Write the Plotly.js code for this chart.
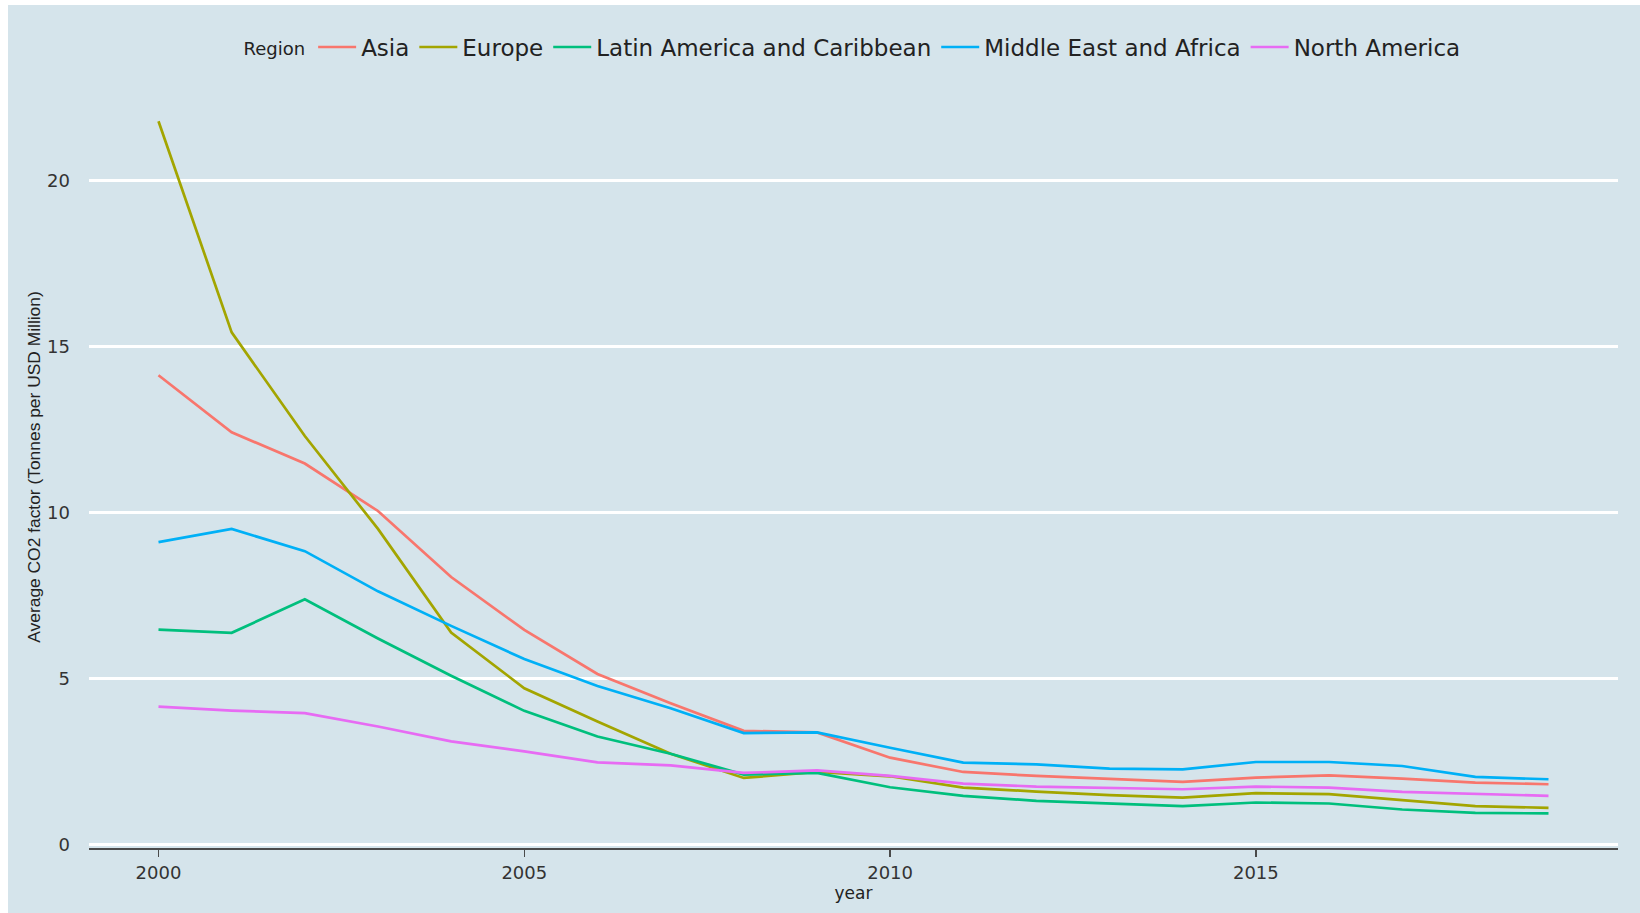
<!DOCTYPE html>
<html>
<head>
<meta charset="utf-8">
<script src="https://cdn.plot.ly/plotly-3.0.1.min.js"></script>
<style>
  html, body { margin: 0; padding: 0; background: #ffffff; }
  #chart { position: absolute; left: 8px; top: 5px; width: 1632px; height: 908px; }
</style>
</head>
<body>
<div id="chart"></div>
<script>
const years = [2000, 2001, 2002, 2003, 2004, 2005, 2006, 2007, 2008, 2009,
               2010, 2011, 2012, 2013, 2014, 2015, 2016, 2017, 2018, 2019];

const regionNames = ["Asia", "Europe", "Latin America and Caribbean", "Middle East and Africa", "North America"];

const asia = [14.13, 12.41, 11.47, 10.04, 8.05, 6.46, 5.13, 4.25, 3.42, 3.37,
              2.61, 2.18, 2.06, 1.96, 1.88, 2.01, 2.08, 1.98, 1.86, 1.81];
const europe = [21.78, 15.42, 12.3, 9.5, 6.38, 4.70, 3.70, 2.73, 2.00, 2.18,
                2.05, 1.71, 1.59, 1.48, 1.41, 1.54, 1.51, 1.34, 1.15, 1.10];
const latinAmerica = [6.47, 6.37, 7.38, 6.2, 5.08, 4.02, 3.25, 2.73, 2.10, 2.15,
                      1.72, 1.46, 1.31, 1.23, 1.15, 1.26, 1.23, 1.05, 0.95, 0.93];
const middleEastAfrica = [9.10, 9.50, 8.83, 7.62, 6.58, 5.58, 4.77, 4.10, 3.35, 3.37,
                          2.91, 2.46, 2.41, 2.28, 2.26, 2.48, 2.48, 2.36, 2.03, 1.96];
const northAmerica = [4.15, 4.03, 3.95, 3.55, 3.10, 2.80, 2.47, 2.38, 2.15, 2.23,
                      2.06, 1.83, 1.74, 1.69, 1.66, 1.74, 1.71, 1.58, 1.51, 1.46];

const seriesValues = [asia, europe, latinAmerica, middleEastAfrica, northAmerica];
const colors = ["#F8766D", "#A3A500", "#00BF7D", "#00B0F6", "#E76BF3"];

const xTickVals = [2000, 2005, 2010, 2015];
const yTickVals = [0, 5, 10, 15, 20];

const traces = regionNames.map((name, i) => ({
  type: "scatter",
  mode: "lines",
  name: name,
  x: years,
  y: seriesValues[i],
  line: { color: colors[i], width: 2.7 }
}));

const bg = "#d5e4eb";
const layout = {
  width: 1632,
  height: 908,
  paper_bgcolor: bg,
  plot_bgcolor: bg,
  margin: { l: 80.5, r: 22, t: 81, b: 65 },
  showlegend: true,
  legend: {
    orientation: "h",
    x: 0.5, xanchor: "center",
    yref: "container", y: 0.9537, yanchor: "middle",
    bgcolor: "rgba(0,0,0,0)",
    font: { family: "DejaVu Sans", size: 23, color: "#222222" },
    title: { text: '<span style="font-size:18px">Region</span>', side: "left",
             font: { family: "DejaVu Sans", size: 23, color: "#222222" } },
    itemwidth: 38,
    traceorder: "normal"
  },
  xaxis: {
    range: [1999.05, 2019.95],
    tickvals: xTickVals,
    ticktext: xTickVals.map(String),
    showgrid: false,
    zeroline: false,
    showline: true,
    linecolor: "#4a4a4a",
    linewidth: 2.2,
    ticks: "outside",
    ticklen: 7,
    tickwidth: 1.5,
    tickcolor: "#4a4a4a",
    tickfont: { family: "DejaVu Sans", size: 18, color: "#333333" },
    title: { text: "year", standoff: 0, font: { family: "DejaVu Sans", size: 17, color: "#222222" } }
  },
  yaxis: {
    range: [-0.11, 22.84],
    tickvals: yTickVals,
    ticktext: yTickVals.map(String),
    showgrid: true,
    gridcolor: "#ffffff",
    gridwidth: 2.5,
    zeroline: false,
    showline: false,
    ticks: "",
    ticklabelstandoff: 18,
    tickfont: { family: "DejaVu Sans", size: 18, color: "#333333" },
    title: { text: "Average CO2 factor (Tonnes per USD Million)", standoff: 2,
             font: { family: "Liberation Sans, Arial, sans-serif", size: 17.4, color: "#222222" } }
  }
};

Plotly.newPlot("chart", traces, layout, { displayModeBar: false, staticPlot: true });
</script>
</body>
</html>
